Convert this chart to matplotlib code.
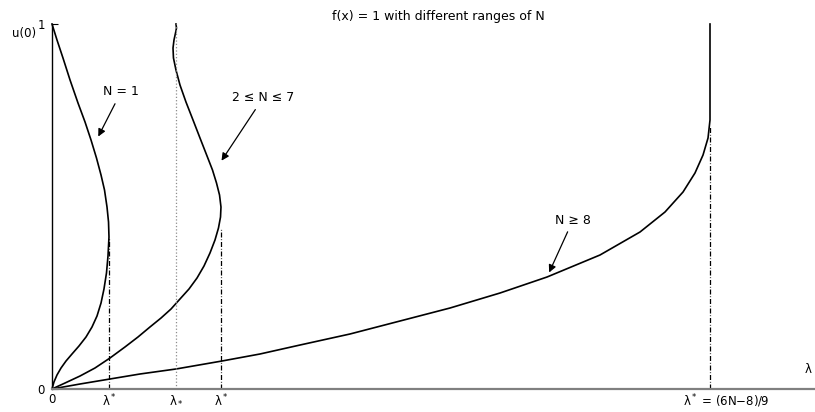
import matplotlib
matplotlib.use("Agg")
import matplotlib.pyplot as plt

plt.rcParams['font.family'] = ['DejaVu Sans']
plt.rcParams['mathtext.fontset'] = 'dejavusans'

# curves: lambda (x) and u(0) (y)
n1_lam = [0, 0.0030, 0.0076, 0.0137, 0.0213, 0.0304, 0.0410, 0.0517, 0.0608, 0.0684, 0.0745,
          0.0790, 0.0828, 0.0851, 0.0866, 0.0859, 0.0836, 0.0798, 0.0745, 0.0676, 0.0593,
          0.0502, 0.0395, 0.0274, 0.0167, 0.0076, 0]
n1_u = [0, 0.0192, 0.0384, 0.0575, 0.0767, 0.0959, 0.1178, 0.1425, 0.1699, 0.2000, 0.2356,
        0.2740, 0.3178, 0.3644, 0.4164, 0.4575, 0.4986, 0.5452, 0.5863, 0.6329, 0.6822,
        0.7315, 0.7836, 0.8466, 0.9068, 0.9562, 1.0]

mid_lam = [0, 0.0198, 0.0426, 0.0653, 0.0881, 0.1109, 0.1307, 0.1489, 0.1657, 0.1809, 0.1945,
           0.2082, 0.2204, 0.2310, 0.2401, 0.2477, 0.2530, 0.2561, 0.2568, 0.2546, 0.2500,
           0.2439, 0.2356, 0.2249, 0.2143, 0.2036, 0.1945, 0.1884, 0.1846, 0.1839, 0.1854,
           0.1877, 0.1892, 0.1884]
mid_u = [0, 0.0164, 0.0356, 0.0575, 0.0849, 0.1151, 0.1425, 0.1699, 0.1945, 0.2192, 0.2466,
         0.2740, 0.3041, 0.3370, 0.3726, 0.4082, 0.4411, 0.4712, 0.4986, 0.5315, 0.5644,
         0.6000, 0.6384, 0.6877, 0.7370, 0.7863, 0.8329, 0.8740, 0.9068, 0.9342, 0.9562,
         0.9753, 0.9890, 1.0]

n8_lam = [0, 0.0426, 0.0881, 0.1337, 0.1884, 0.2584, 0.3161, 0.3769, 0.4529, 0.5289, 0.6049,
          0.6809, 0.7523, 0.8328, 0.8936, 0.9316, 0.9590, 0.9772, 0.9894, 0.9970, 1.0, 1.0, 1.0]
n8_u = [0, 0.0137, 0.0274, 0.0411, 0.0548, 0.0767, 0.0959, 0.1205, 0.1507, 0.1863, 0.2219,
        0.2630, 0.3068, 0.3671, 0.4301, 0.4849, 0.5397, 0.5918, 0.6411, 0.6877, 0.7370,
        0.7918, 1.0]

lam_n1 = 0.0866
lam_low = 0.1884
lam_mid = 0.2568
lam_n8 = 1.0
top_n1 = 0.4164
top_mid = 0.44
top_n8 = 0.72

fig = plt.figure(figsize=(8.15, 4.12), dpi=100)
ax = fig.add_axes([52 / 815, 23 / 412, 763 / 815, 365 / 412])
ax.set_xlim(0, 763 / 658)
ax.set_ylim(0, 1)

lw = 1.2
for xs, ys in [(n1_lam, n1_u), (mid_lam, mid_u), (n8_lam, n8_u)]:
    ax.plot(xs, ys, color='black', lw=lw, clip_on=False, solid_joinstyle='round')

dash = (0, (4, 1.5, 0.6, 1.5))
ax.plot([lam_n1, lam_n1], [0, top_n1], color='black', lw=0.9, linestyle=dash)
ax.plot([lam_mid, lam_mid], [0, top_mid], color='black', lw=0.9, linestyle=dash)
ax.plot([lam_n8, lam_n8], [0, top_n8], color='black', lw=0.9, linestyle=dash)
ax.plot([lam_low, lam_low], [0, 1], color='0.55', lw=0.9, linestyle=':')

for s in ['top', 'right']:
    ax.spines[s].set_visible(False)
ax.spines['left'].set_color('black')
ax.spines['left'].set_linewidth(1.0)
ax.spines['bottom'].set_color('0.5')
ax.spines['bottom'].set_linewidth(1.6)

ax.set_xticks([0, lam_n1, lam_low, lam_mid])
ax.set_xticklabels(['0', 'λ$^*$', 'λ$_*$', 'λ$^*$'])
ax.set_yticks([0, 1])
ax.set_yticklabels(['0', '1'])
ax.tick_params(axis='x', length=0, pad=3, labelsize=8.5)
ax.tick_params(axis='y', length=4, direction='in', pad=5, labelsize=8.5)

ax.text(1.024, -0.008, 'λ$^*$ = (6N\u22128)/9', ha='center', va='top', fontsize=8.5)
ax.text(1.149, 0.035, 'λ', ha='center', va='bottom', fontsize=8.5)
ax.text(-0.0426, 0.975, 'u(0)', ha='center', va='center', fontsize=8.5)

ax.set_title('f(x) = 1 with different ranges of N', fontsize=9, x=(438 - 52) / 763, pad=3)

arrow = dict(arrowstyle='-|>', color='black', lw=0.9, mutation_scale=11)
ax.annotate('N = 1', xy=(0.0684, 0.6849), xytext=(0.1049, 0.8137),
            ha='center', va='center', fontsize=9, arrowprops=arrow)
ax.annotate('2 ≤ N ≤ 7', xy=(0.2553, 0.6192), xytext=(0.3207, 0.7973),
            ha='center', va='center', fontsize=9, arrowprops=arrow)
ax.annotate('N ≥ 8', xy=(0.7538, 0.3123), xytext=(0.7918, 0.4630),
            ha='center', va='center', fontsize=9, arrowprops=arrow)

fig.savefig('out.png', dpi=100)
